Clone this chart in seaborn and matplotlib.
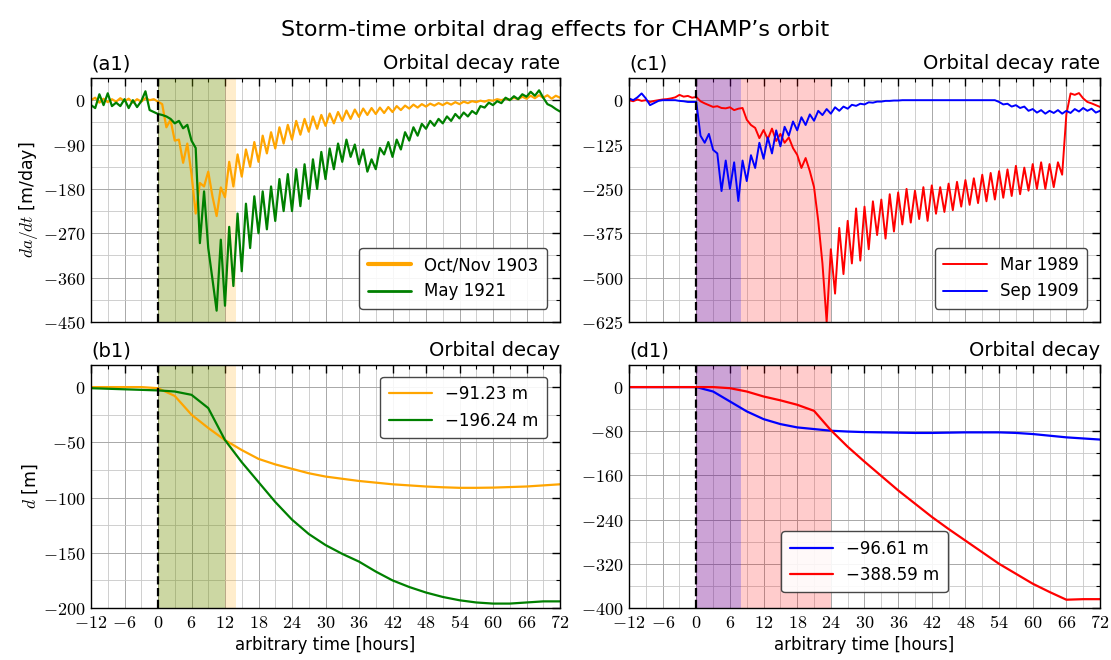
import numpy as np
import pandas as pd
import matplotlib
matplotlib.use("Agg")
import matplotlib.pyplot as plt
from matplotlib.ticker import MultipleLocator, FuncFormatter
import seaborn as sns

# ---------------- data ----------------
# time grid for decay-rate series (hours, 0.75 h spacing)
t_rate = np.arange(-12, 72.001, 0.75)
# smooth cumulative decay grid (hours, 3 h spacing)
t_dec = np.arange(-12, 72.001, 3)

rate_oct_nov_1903 = [
    0, 5, -5, 3, -4, 2, -3, 4, -2, 3, -5, 2, -3, 4, 0, 2,
    -3, -8, -55, -40, -82, -80, -127, -88, -150, -230, -168, -175, -145, -195, -235, -177,
    -197, -125, -175, -110, -155, -100, -135, -85, -125, -72, -108, -65, -98, -55, -88, -50,
    -80, -42, -70, -38, -64, -33, -58, -30, -52, -27, -47, -24, -42, -21, -38, -19,
    -34, -17, -30, -16, -28, -15, -26, -14, -24, -12, -20, -11, -17, -9, -15, -8,
    -13, -7, -11, -6, -10, -5, -9, -4, -8, -3, -6, -2, -4, -1, -3, 0,
    -1, 2, 0, 3, 1, 5, 2, 7, 3, 9, 4, 10, 5, 10, 3, 9,
    5]
rate_may_1921 = [
    -10, -16, 12, -10, 14, -12, -5, -12, 2, -16, 0, -14, -2, 18, -20, -24,
    -28, -30, -33, -38, -47, -42, -57, -50, -82, -97, -290, -185, -300, -363, -427, -283,
    -417, -257, -377, -230, -347, -210, -300, -195, -270, -185, -262, -175, -245, -160, -225, -150,
    -225, -140, -215, -130, -200, -120, -180, -105, -160, -98, -140, -88, -125, -80, -115, -90,
    -130, -100, -145, -120, -140, -97, -110, -85, -115, -80, -100, -65, -82, -55, -72, -48,
    -58, -42, -52, -38, -47, -33, -42, -28, -37, -25, -33, -22, -28, -12, -15, -5,
    -10, -2, -6, 5, 0, 8, 2, 12, 7, 17, 9, 20, 5, -8, -12, -18,
    -23]
rate_mar_1989 = [
    0, -3, 2, -2, 0, -5, -2, 0, 2, 3, 5, 8, 15, 10, 12, 7,
    9, -3, -9, -14, -19, -17, -22, -23, -20, -28, -24, -22, -55, -70, -78, -107,
    -84, -110, -80, -115, -95, -120, -105, -135, -154, -191, -163, -200, -245, -340, -460, -625,
    -420, -545, -360, -490, -340, -460, -305, -452, -300, -420, -285, -380, -280, -390, -265, -370,
    -260, -350, -250, -345, -255, -335, -245, -340, -240, -320, -245, -315, -235, -310, -230, -300,
    -225, -295, -220, -290, -210, -285, -205, -280, -200, -275, -195, -270, -185, -265, -190, -255,
    -180, -250, -175, -250, -180, -245, -175, -210, -40, 19, 15, 20, 5, -5, -9, -14,
    -19]
rate_sep_1909 = [
    5, 0, 8, 19, 5, -14, -8, -2, 0, 0, 0, 0, -2, -3, -5, -5,
    -5, -100, -120, -95, -140, -150, -256, -170, -250, -175, -284, -170, -228, -155, -191, -120,
    -165, -105, -150, -85, -130, -75, -100, -60, -85, -48, -70, -40, -58, -30, -42, -25,
    -38, -20, -30, -18, -24, -13, -16, -10, -12, -6, -7, -4, -4, -2, -2, -1,
    -1, 0, 0, 0, 0, 0, 0, 0, 0, 0, 0, 0, 0, 0, 0, 0,
    0, 0, 0, 0, 0, 0, 0, 0, -5, -12, -10, -18, -14, -22, -18, -30,
    -25, -35, -28, -38, -30, -36, -28, -38, -30, -36, -25, -32, -22, -30, -24, -35,
    -30]

dec_oct_nov_1903 = [0, 0, 0, 0, -1, -8, -25, -37, -48, -57, -65, -70, -74, -78, -81,
                    -83, -85, -86.5, -88, -89, -90, -90.7, -91.2, -91.2, -91, -90.5, -90, -89, -88]
dec_may_1921 = [-1, -1.5, -2, -2.5, -3, -4, -7, -19, -48, -68, -86, -104, -120, -133, -143,
                -151, -158, -167, -175, -181, -186, -190, -193, -195, -196, -196, -195, -194, -194]
dec_sep_1909 = [0, 0, 0, 0, 0, -8, -26, -44, -58, -67, -73, -76, -79, -80.5, -81.5,
                -82, -82.5, -83, -83, -82.5, -82, -82, -82, -83, -85, -88, -91, -93, -95]
dec_mar_1989 = [0, 0, 0, 0, 0, 0, -2, -8, -17, -24, -32, -43, -78, -108, -135,
                -161, -187, -211, -235, -257, -278, -299, -320, -338, -356, -371, -385, -384, -384]

labels_rate_a = ["Oct/Nov 1903", "May 1921"]
labels_rate_c = ["Mar 1989", "Sep 1909"]
labels_dec_b = ["\u221291.23 m", "\u2212196.24 m"]
labels_dec_d = ["\u221296.61 m", "\u2212388.59 m"]

# ---------------- style ----------------
sns.set_style("white")
plt.rcParams["font.family"] = ["DejaVu Sans"]
plt.rcParams["mathtext.fontset"] = "cm"
for k in ["text.color", "axes.labelcolor", "xtick.color", "ytick.color"]:
    plt.rcParams[k] = "black"

C_ORANGE = "#FFA500"
C_GREEN = "#008000"
C_RED = "#FF0000"
C_BLUE = "#0000FF"

fig = plt.figure(figsize=(11.11, 6.60), dpi=100)
W, H = 1111, 660


def add_ax(l, r, t, b):
    return fig.add_axes([l / W, 1 - b / H, (r - l) / W, (b - t) / H])


ax_a = add_ax(91, 560, 78, 322)
ax_c = add_ax(629, 1100, 78, 322)
ax_b = add_ax(91, 560, 365, 608)
ax_d = add_ax(629, 1100, 365, 608)

fmt = FuncFormatter(lambda v, p: r"$%s$" % ("%g" % v))


def style_ax(ax, ylim, ystep, tag, title, xlabel=False):
    ax.set_xlim(-12, 72)
    ax.set_ylim(*ylim)
    ax.xaxis.set_major_locator(MultipleLocator(6))
    ax.xaxis.set_minor_locator(MultipleLocator(3))
    ax.yaxis.set_major_locator(MultipleLocator(ystep))
    ax.yaxis.set_minor_locator(MultipleLocator(ystep / 2))
    ax.yaxis.set_major_formatter(fmt)
    if xlabel:
        ax.xaxis.set_major_formatter(fmt)
        ax.set_xlabel("arbitrary time [hours]", fontsize=12, labelpad=3)
    else:
        ax.set_xticklabels([])
        ax.set_xlabel("")
    ax.tick_params(which="both", direction="in", top=True, right=True,
                   colors="black", labelsize=13)
    ax.tick_params(which="major", length=6, width=1.0, pad=4)
    ax.tick_params(which="minor", length=3, width=0.8)
    ax.grid(True, which="major", color="#a8a8a8", lw=0.7)
    ax.grid(True, which="minor", color="#c8c8c8", lw=0.6)
    ax.set_axisbelow(True)
    for s in ax.spines.values():
        s.set_color("black")
        s.set_linewidth(1.0)
        s.set_zorder(5)
    ax.text(0.0, 1.02, tag, transform=ax.transAxes, ha="left", va="bottom", fontsize=14)
    ax.text(1.0, 1.02, title, transform=ax.transAxes, ha="right", va="bottom", fontsize=14)
    ax.axvline(0, color="black", ls="--", lw=1.6, zorder=4)


leg_kw = dict(fontsize=12, frameon=True, fancybox=True, edgecolor="#333333",
              framealpha=0.9, handlelength=2.6, borderpad=0.5)

# ---- (a1)
ax = ax_a
ax.axvspan(0, 14, color=C_ORANGE, alpha=0.2, lw=0, zorder=1)
ax.axvspan(0, 12, color=C_GREEN, alpha=0.2, lw=0, zorder=1)
sns.lineplot(x=t_rate, y=rate_oct_nov_1903, ax=ax, color=C_ORANGE, lw=1.6,
             label=labels_rate_a[0], zorder=3)
sns.lineplot(x=t_rate, y=rate_may_1921, ax=ax, color=C_GREEN, lw=1.6,
             label=labels_rate_a[1], zorder=3)
style_ax(ax, (-450, 45), 90, "(a1)", "Orbital decay rate")
ax.set_ylabel(r"$da/dt$ [m/day]", fontsize=12.5, labelpad=2)
leg = ax.legend(loc="lower right", bbox_to_anchor=(0.99, 0.02), **leg_kw)
leg.get_lines()[0].set_linewidth(3.0)
leg.get_lines()[1].set_linewidth(2.0)

# ---- (c1)
ax = ax_c
ax.axvspan(0, 24, color=C_RED, alpha=0.2, lw=0, zorder=1)
ax.axvspan(0, 8, color=C_BLUE, alpha=0.2, lw=0, zorder=1)
sns.lineplot(x=t_rate, y=rate_mar_1989, ax=ax, color=C_RED, lw=1.4,
             label=labels_rate_c[0], zorder=3)
sns.lineplot(x=t_rate, y=rate_sep_1909, ax=ax, color=C_BLUE, lw=1.4,
             label=labels_rate_c[1], zorder=3)
style_ax(ax, (-625, 62.5), 125, "(c1)", "Orbital decay rate")
ax.set_ylabel("")
ax.legend(loc="lower right", bbox_to_anchor=(0.99, 0.02), **leg_kw)

# ---- (b1)
ax = ax_b
ax.axvspan(0, 14, color=C_ORANGE, alpha=0.2, lw=0, zorder=1)
ax.axvspan(0, 12, color=C_GREEN, alpha=0.2, lw=0, zorder=1)
sns.lineplot(x=t_dec, y=dec_oct_nov_1903, ax=ax, color=C_ORANGE, lw=1.6,
             label=labels_dec_b[0], zorder=3)
sns.lineplot(x=t_dec, y=dec_may_1921, ax=ax, color=C_GREEN, lw=1.6,
             label=labels_dec_b[1], zorder=3)
style_ax(ax, (-200, 20), 50, "(b1)", "Orbital decay", xlabel=True)
ax.set_ylabel(r"$d$ [m]", fontsize=12.5, labelpad=2)
ax.legend(loc="upper right", bbox_to_anchor=(0.99, 0.985), **leg_kw)

# ---- (d1)
ax = ax_d
ax.axvspan(0, 24, color=C_RED, alpha=0.2, lw=0, zorder=1)
ax.axvspan(0, 8, color=C_BLUE, alpha=0.2, lw=0, zorder=1)
sns.lineplot(x=t_dec, y=dec_sep_1909, ax=ax, color=C_BLUE, lw=1.6,
             label=labels_dec_d[0], zorder=3)
sns.lineplot(x=t_dec, y=dec_mar_1989, ax=ax, color=C_RED, lw=1.6,
             label=labels_dec_d[1], zorder=3)
style_ax(ax, (-400, 40), 80, "(d1)", "Orbital decay", xlabel=True)
ax.set_ylabel("")
ax.legend(loc="lower center", bbox_to_anchor=(0.5, 0.03), **leg_kw)

fig.text(0.5, 0.955, "Storm-time orbital drag effects for CHAMP\u2019s orbit",
         ha="center", va="center", fontsize=16)

fig.savefig("out.png", dpi=100)
